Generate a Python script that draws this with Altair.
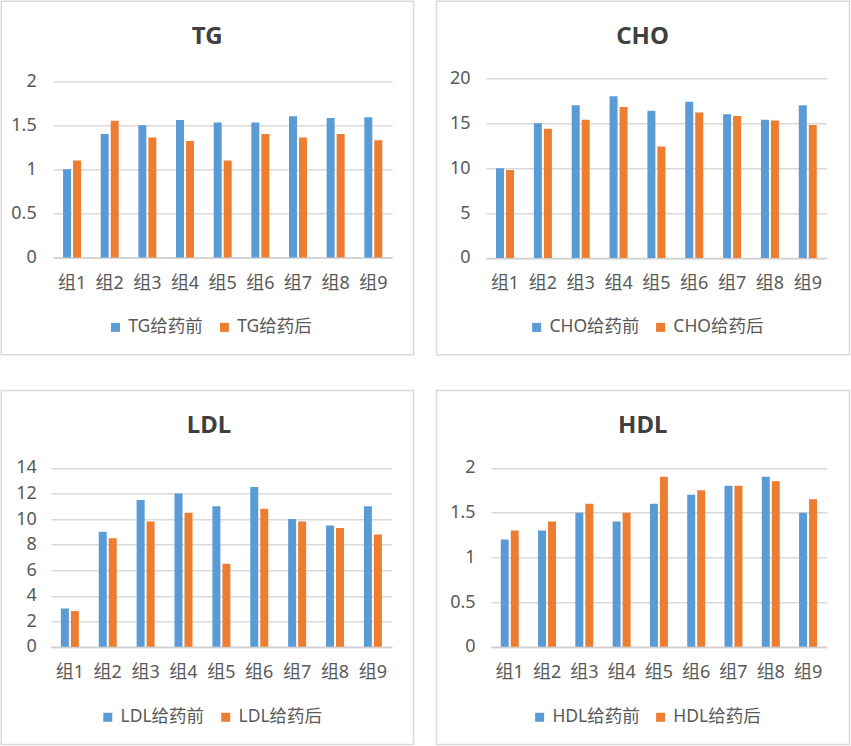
import altair as alt
import pandas as pd

# ---- data -------------------------------------------------------------
groups = ["组1", "组2", "组3", "组4", "组5", "组6", "组7", "组8", "组9"]

tg_before = [1.00, 1.40, 1.50, 1.56, 1.53, 1.53, 1.60, 1.58, 1.59]
tg_after = [1.10, 1.55, 1.36, 1.32, 1.10, 1.40, 1.36, 1.40, 1.33]

cho_before = [10.0, 15.0, 17.0, 18.0, 16.4, 17.4, 16.0, 15.4, 17.0]
cho_after = [9.8, 14.4, 15.4, 16.8, 12.4, 16.2, 15.8, 15.3, 14.8]

ldl_before = [3.0, 9.0, 11.5, 12.0, 11.0, 12.5, 10.0, 9.5, 11.0]
ldl_after = [2.8, 8.5, 9.8, 10.5, 6.5, 10.8, 9.8, 9.3, 8.8]

hdl_before = [1.2, 1.3, 1.5, 1.4, 1.6, 1.7, 1.8, 1.9, 1.5]
hdl_after = [1.3, 1.4, 1.6, 1.5, 1.9, 1.75, 1.8, 1.85, 1.65]

tg_ticks = [0, 0.5, 1, 1.5, 2]
cho_ticks = [0, 5, 10, 15, 20]
ldl_ticks = [0, 2, 4, 6, 8, 10, 12, 14]
hdl_ticks = [0, 0.5, 1, 1.5, 2]

BEFORE, AFTER = "给药前", "给药后"

# ---- styling ----------------------------------------------------------
FONT = "Noto Sans, Noto Sans CJK SC, sans-serif"
BLUE = "#5B9BD5"
ORANGE = "#ED7D31"
GRID = "#D9D9D9"
TEXT = "#595959"
TITLE = "#404040"
LABEL_SIZE = 18
LEGEND_SIZE = 17.5

# panel geometry, relative to each plot origin
# x_range / y_top: where the band and value scales sit inside the view
# frame: panel border (left, top, right, bottom)
layouts = {
    "TG": dict(width=340, height=179.3, x_range=[1, 340], y_top=2.7,
               frame=(-51, -77, 361.5, 276.5), title=(155, -41),
               legend=(54.5, 240)),
    "CHO": dict(width=340.7, height=179.7, x_range=[0, 340.7], y_top=0,
                frame=(-49.7, -77, 363.5, 276.5), title=(156.5, -41),
                legend=(41.8, 240)),
    "LDL": dict(width=339.7, height=178.7, x_range=[-1.3, 339.7], y_top=-0.3,
                frame=(-51, -77.7, 361.5, 276.3), title=(156.8, -42),
                legend=(46.8, 240)),
    "HDL": dict(width=335.7, height=178.7, x_range=[0, 335.7], y_top=-0.3,
                frame=(-54.7, -77.7, 358.5, 276.3), title=(151.7, -42),
                legend=(39.8, 240)),
}


def panel(name, before, after, ticks):
    lay = layouts[name]
    s_before, s_after = name + BEFORE, name + AFTER
    df = pd.DataFrame({
        "group": groups * 2,
        "series": [s_before] * len(groups) + [s_after] * len(groups),
        "value": before + after,
    })

    x0, x1 = lay["x_range"]
    step = (x1 - x0) / len(groups)
    pad_inner = 1 - 18 / step  # two 8px bars with a 2px gap per group

    bars = alt.Chart(df).mark_bar().encode(
        x=alt.X(
            "group:N",
            sort=groups,
            scale=alt.Scale(domain=groups, range=[x0, x1],
                            paddingInner=pad_inner, paddingOuter=pad_inner / 2),
            axis=alt.Axis(title=None, labelAngle=0, ticks=False, grid=False,
                          labelOverlap=False, labelPadding=17,
                          domainColor="#D0D0D0", domainWidth=1.5),
        ),
        xOffset=alt.XOffset(
            "series:N",
            sort=[s_before, s_after],
            scale=alt.Scale(domain=[s_before, s_after],
                            paddingInner=0.2, paddingOuter=0),
        ),
        y=alt.Y(
            "value:Q",
            scale=alt.Scale(domain=[ticks[0], ticks[-1]], nice=False,
                            range=[lay["height"], lay["y_top"]]),
            axis=alt.Axis(title=None, values=ticks, format="~g", domain=False,
                          ticks=False, labelPadding=16,
                          gridColor=GRID, gridWidth=1.5),
        ),
        color=alt.Color(
            "series:N",
            sort=[s_before, s_after],
            scale=alt.Scale(domain=[s_before, s_after], range=[BLUE, ORANGE]),
            legend=alt.Legend(
                title=None, orient="none",
                legendX=lay["legend"][0], legendY=lay["legend"][1],
                direction="horizontal", symbolType="square", symbolSize=81,
                symbolStrokeWidth=0, labelOffset=4, columnPadding=12,
                padding=0, labelFontSize=LEGEND_SIZE, labelColor=TEXT,
                labelFont=FONT,
            ),
        ),
    )

    fl, ft, fr, fb = lay["frame"]
    frame = alt.Chart(alt.Data(values=[{}])).mark_rect(
        fillOpacity=0, stroke=GRID, strokeWidth=1.5
    ).encode(
        x=alt.value(fl), x2=alt.value(fr), y=alt.value(ft), y2=alt.value(fb)
    )

    tx, ty = lay["title"]
    title = alt.Chart(alt.Data(values=[{}])).mark_text(
        font=FONT, fontSize=24, fontWeight="bold", color=TITLE,
        align="center", baseline="middle",
    ).encode(x=alt.value(tx), y=alt.value(ty), text=alt.value(name))

    return alt.layer(frame, bars, title).properties(
        width=lay["width"], height=lay["height"]
    )


top = alt.hconcat(
    panel("TG", tg_before, tg_after, tg_ticks),
    panel("CHO", cho_before, cho_after, cho_ticks),
    spacing=20,
).resolve_scale(x="independent", y="independent", color="independent",
                xOffset="independent")

bottom = alt.hconcat(
    panel("LDL", ldl_before, ldl_after, ldl_ticks),
    panel("HDL", hdl_before, hdl_after, hdl_ticks),
    spacing=20,
).resolve_scale(x="independent", y="independent", color="independent",
                xOffset="independent")

chart = alt.vconcat(top, bottom, spacing=33).resolve_scale(
    x="independent", y="independent", color="independent", xOffset="independent"
).properties(
    padding={"left": 0.25, "top": 0.25, "right": 0, "bottom": 0},
    background="white",
).configure_view(
    stroke=None
).configure_axis(
    labelFont=FONT, labelFontSize=LABEL_SIZE, labelColor=TEXT,
).configure_legend(
    labelFont=FONT,
)

chart.save("out.html", embed_options={"renderer": "svg", "actions": False})
